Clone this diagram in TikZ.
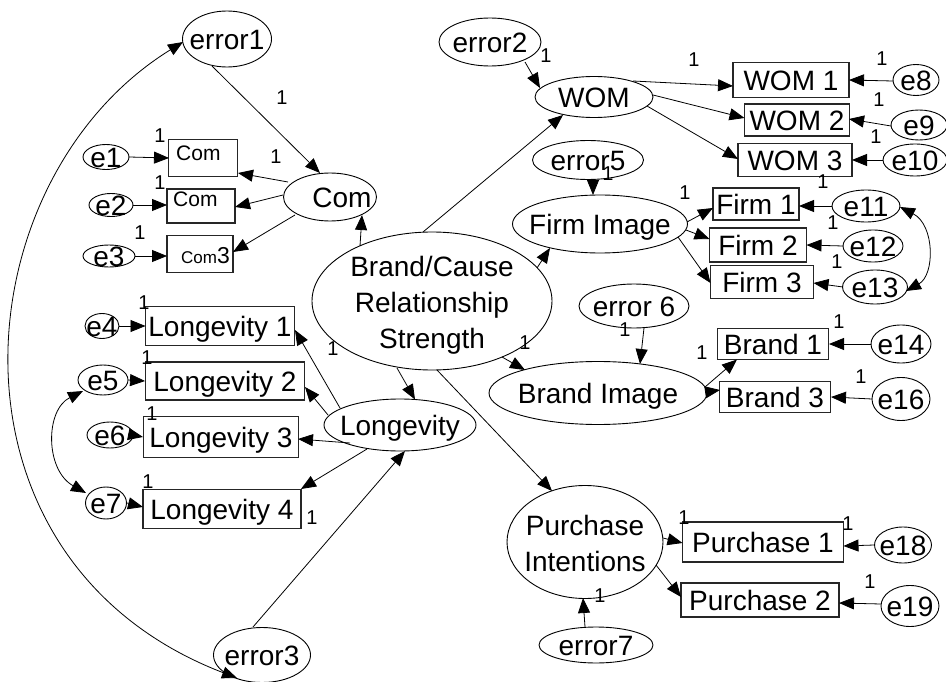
\documentclass[tikz,border=0pt]{standalone}
\usepackage{fontspec}
\setmainfont{Liberation Sans}
\usetikzlibrary{shapes.geometric,arrows.meta}
\newcommand\boxtxt[1]{\raisebox{-0.36em}[0pt][0pt]{\makebox[0pt]{#1}}}
\tikzset{
  base/.style={inner sep=0pt, font=\fontsize{28}{36}\selectfont},
  lat/.style={base, ellipse, draw, line width=0.9pt},
  obs/.style={base, rectangle, draw=black!85, line width=1.2pt},
  num/.style={inner sep=0pt, font=\fontsize{20}{23}\selectfont},
  smalltxt/.style={inner sep=0pt, anchor=base west, font=\fontsize{21}{25}\selectfont},
  arr/.style={line width=0.8pt, -{Triangle[length=15pt,width=12pt]}},
  darr/.style={line width=0.8pt, {Triangle[length=15pt,width=12pt]}-{Triangle[length=15pt,width=12pt]}}
}
\begin{document}
\begin{tikzpicture}[x=1pt,y=-1pt]
\useasboundingbox[fill=white] (0,0) rectangle (946,682);
% ---------- left: Com block
\node[lat, minimum width=89pt, minimum height=56pt] (error1) at (227,39) {\boxtxt{error1}};
\node[lat, minimum width=93pt, minimum height=48pt] (com) at (330,197) {\boxtxt{\hspace*{24pt}Com}};
\node[obs, minimum width=69pt, minimum height=37pt] (com1) at (203,158) {};
\node[obs, minimum width=68pt, minimum height=34pt] (com2) at (201,206) {};
\node[obs, minimum width=66pt, minimum height=37pt] (com3) at (200,254) {};
\node[smalltxt] (com1t) at (176,161) {Com};
\node[smalltxt] (com2t) at (173,207) {Com};
\node[smalltxt] (com3t) at (181,263) {{\fontsize{17}{20}\selectfont Com}{\fontsize{23}{26}\selectfont 3}};
\node[lat, minimum width=46pt, minimum height=25pt] (e1) at (106,157) {\boxtxt{e1}};
\node[lat, minimum width=44pt, minimum height=23pt] (e2) at (111,205) {\boxtxt{e2}};
\node[lat, minimum width=52pt, minimum height=22pt] (e3) at (109,256) {\boxtxt{e3}};
% ---------- centre
\node[lat, minimum width=240pt, minimum height=138pt] (bc) at (432,301)
  {\boxtxt{\begin{tabular}{@{}c@{}}Brand/Cause\\Relationship\\Strength\end{tabular}}};
% ---------- left: Longevity block
\node[obs, minimum width=149pt, minimum height=39pt] (l1) at (220,326) {\boxtxt{Longevity 1}};
\node[obs, minimum width=159pt, minimum height=38pt] (l2) at (225,381) {\boxtxt{Longevity 2}};
\node[obs, minimum width=155pt, minimum height=41pt] (l3) at (221,437) {\boxtxt{Longevity 3}};
\node[obs, minimum width=158pt, minimum height=39pt] (l4) at (222,509) {\boxtxt{Longevity 4}};
\node[lat, minimum width=34pt, minimum height=25pt] (e4) at (102,326) {\boxtxt{e4}};
\node[lat, minimum width=50pt, minimum height=30pt] (e5) at (103,380) {\boxtxt{e5}};
\node[lat, minimum width=46pt, minimum height=26pt] (e6) at (110,435) {\boxtxt{e6}};
\node[lat, minimum width=41pt, minimum height=32pt] (e7) at (106,503) {\boxtxt{e7}};
\node[lat, minimum width=152pt, minimum height=52pt] (lon) at (400,425) {\boxtxt{Longevity}};
\node[lat, minimum width=97pt, minimum height=55pt] (error3) at (262,655) {\boxtxt{error3}};
% ---------- right: WOM block
\node[lat, minimum width=102pt, minimum height=48pt] (error2) at (490,42) {\boxtxt{error2}};
\node[lat, minimum width=118pt, minimum height=41pt] (wom) at (594,97) {\boxtxt{WOM}};
\node[obs, minimum width=116pt, minimum height=35pt] (w1) at (791,80) {\boxtxt{WOM 1}};
\node[obs, minimum width=105pt, minimum height=32pt] (w2) at (797,120) {\boxtxt{WOM 2}};
\node[obs, minimum width=114pt, minimum height=33pt] (w3) at (795,160) {\boxtxt{WOM 3}};
\node[lat, minimum width=46pt, minimum height=31pt] (e8) at (916,80) {\boxtxt{e8}};
\node[lat, minimum width=56pt, minimum height=30pt] (e9) at (919,125) {\boxtxt{e9}};
\node[lat, minimum width=64pt, minimum height=32pt] (e10) at (915,160) {\boxtxt{e10}};
% ---------- right: Firm block
\node[lat, minimum width=111pt, minimum height=39pt] (error5) at (588,160) {\boxtxt{error5}};
\node[lat, minimum width=175pt, minimum height=58pt] (fi) at (600,224) {\boxtxt{Firm Image}};
\node[obs, minimum width=86pt, minimum height=32pt] (f1) at (756,204) {\boxtxt{Firm 1}};
\node[obs, minimum width=97pt, minimum height=34pt] (f2) at (758,245) {\boxtxt{Firm 2}};
\node[obs, minimum width=103pt, minimum height=33pt] (f3) at (762,282) {\boxtxt{Firm 3}};
\node[lat, minimum width=68pt, minimum height=32pt] (e11) at (866,206) {\boxtxt{e11}};
\node[lat, minimum width=60pt, minimum height=32pt] (e12) at (873,246) {\boxtxt{e12}};
\node[lat, minimum width=65pt, minimum height=34pt] (e13) at (875,287) {\boxtxt{e13}};
% ---------- right: Brand block
\node[lat, minimum width=110pt, minimum height=44pt] (error6) at (634,306) {\boxtxt{error 6}};
\node[lat, minimum width=218pt, minimum height=63pt] (bi) at (598,393) {\boxtxt{Brand Image}};
\node[obs, minimum width=111pt, minimum height=31pt] (b1) at (773,344) {\boxtxt{Brand 1}};
\node[obs, minimum width=111pt, minimum height=31pt] (b3) at (775,397) {\boxtxt{Brand 3}};
\node[lat, minimum width=60pt, minimum height=38pt] (e14) at (901,344) {\boxtxt{e14}};
\node[lat, minimum width=58pt, minimum height=43pt] (e16) at (901,399) {\boxtxt{e16}};
% ---------- right: Purchase block
\node[lat, minimum width=156pt, minimum height=113pt] (pi) at (585,542)
  {\boxtxt{\begin{tabular}{@{}c@{}}Purchase\\Intentions\end{tabular}}};
\node[obs, minimum width=161pt, minimum height=40pt] (p1) at (763,542) {\boxtxt{Purchase 1}};
\node[obs, minimum width=158pt, minimum height=34pt] (p2) at (760,600) {\boxtxt{Purchase 2}};
\node[lat, minimum width=57pt, minimum height=36pt] (e18) at (903,545) {\boxtxt{e18}};
\node[lat, minimum width=58pt, minimum height=41pt] (e19) at (910,606) {\boxtxt{e19}};
\node[lat, minimum width=114pt, minimum height=36pt] (error7) at (596,645) {\boxtxt{error7}};
% ---------- connectors: left
\draw[arr] ([shift={(-15,27)}]error1.center) -- ([shift={(-10,-24)}]com.center);
\draw[arr] ([shift={(-42,-15)}]com.center) -- ([shift={(35,15)}]com1.center);
\draw[arr] ([shift={(-47,-2)}]com.center) -- ([shift={(34,1)}]com2.center);
\draw[arr] ([shift={(-35,18)}]com.center) -- ([shift={(33,-2)}]com3.center);
\draw[arr] ([shift={(23,0)}]e1.center) -- ([shift={(-34,0)}]com1.center);
\draw[arr] ([shift={(22,0)}]e2.center) -- ([shift={(-34,-1)}]com2.center);
\draw[arr] ([shift={(26,0)}]e3.center) -- ([shift={(-33,2)}]com3.center);
\draw[arr] ([shift={(-72,-55)}]bc.center) -- ([shift={(32,18)}]com.center);
\draw[darr] ([shift={(-44,3)}]error1.center) .. controls (-40,180) and (-70,560) .. ([shift={(-25,23)}]error3.center);
\draw[arr] ([shift={(17,0)}]e4.center) -- ([shift={(-74.5,0)}]l1.center);
\draw[arr] ([shift={(25,0)}]e5.center) -- ([shift={(-80,0)}]l2.center);
\draw[arr] ([shift={(23,0)}]e6.center) -- ([shift={(-78,0)}]l3.center);
\draw[arr] ([shift={(21,0)}]e7.center) -- ([shift={(-79,-2)}]l4.center);
\draw[darr] ([shift={(-20,11)}]e5.center) .. controls (45,410) and (45,470) .. ([shift={(-20,-10)}]e7.center);
\draw[arr] ([shift={(-60,-17)}]lon.center) -- ([shift={(75,4)}]l1.center);
\draw[arr] ([shift={(-72,-10)}]lon.center) -- ([shift={(80,6)}]l2.center);
\draw[arr] ([shift={(-50,18)}]lon.center) -- ([shift={(77,2)}]l3.center);
\draw[arr] ([shift={(-33,24)}]lon.center) -- ([shift={(79,-20)}]l4.center);
\draw[arr] ([shift={(-35,67)}]bc.center) -- ([shift={(15,-25.5)}]lon.center);
\draw[arr] ([shift={(-9,-28)}]error3.center) -- ([shift={(5,26)}]lon.center);
% ---------- connectors: right
\draw[arr] ([shift={(-9,-69)}]bc.center) -- ([shift={(-31,18)}]wom.center);
\draw[arr] ([shift={(35,20)}]error2.center) -- ([shift={(-54,-9)}]wom.center);
\draw[arr] ([shift={(39,-16)}]wom.center) -- ([shift={(-58,6)}]w1.center);
\draw[arr] ([shift={(59,-2)}]wom.center) -- ([shift={(-52.5,-2)}]w2.center);
\draw[arr] ([shift={(53,9)}]wom.center) -- ([shift={(-57,-1)}]w3.center);
\draw[arr] ([shift={(-23,1)}]e8.center) -- ([shift={(58,0)}]w1.center);
\draw[arr] ([shift={(-28,1)}]e9.center) -- ([shift={(52,-1)}]w2.center);
\draw[arr] ([shift={(-32,0)}]e10.center) -- ([shift={(57,0)}]w3.center);
\draw[arr] ([shift={(5,19.5)}]error5.center) -- ([shift={(-7,-29)}]fi.center);
\draw[arr] ([shift={(105,-33)}]bc.center) -- ([shift={(-50,24)}]fi.center);
\draw[arr] ([shift={(87,-2)}]fi.center) -- ([shift={(-43,4)}]f1.center);
\draw[arr] ([shift={(86,6)}]fi.center) -- ([shift={(-48.5,-6)}]f2.center);
\draw[arr] ([shift={(78,13)}]fi.center) -- ([shift={(-51.5,1)}]f3.center);
\draw[arr] ([shift={(-34,0)}]e11.center) -- ([shift={(43,2)}]f1.center);
\draw[arr] ([shift={(-30,0)}]e12.center) -- ([shift={(48.5,0)}]f2.center);
\draw[arr] ([shift={(-32,0)}]e13.center) -- ([shift={(51.5,1)}]f3.center);
\draw[darr] ([shift={(34,1)}]e11.center) .. controls (935,225) and (935,275) .. ([shift={(31,4)}]e13.center);
\draw[arr] ([shift={(10,22)}]error6.center) -- ([shift={(42,-29)}]bi.center);
\draw[arr] ([shift={(70,56)}]bc.center) -- ([shift={(-73,-23)}]bi.center);
\draw[arr] ([shift={(107,-6)}]bi.center) -- ([shift={(-36,15.5)}]b1.center);
\draw[arr] ([shift={(109,-1)}]bi.center) -- ([shift={(-55,-7)}]b3.center);
\draw[arr] ([shift={(-30,0)}]e14.center) -- ([shift={(56,0)}]b1.center);
\draw[arr] ([shift={(-29,0)}]e16.center) -- ([shift={(56,0)}]b3.center);
\draw[arr] ([shift={(5,69)}]bc.center) -- ([shift={(-33,-51)}]pi.center);
\draw[arr] ([shift={(78,-4)}]pi.center) -- ([shift={(-80.5,1)}]p1.center);
\draw[arr] ([shift={(71,23)}]pi.center) -- ([shift={(-79,-3)}]p2.center);
\draw[arr] ([shift={(-28.5,0)}]e18.center) -- ([shift={(80.5,4)}]p1.center);
\draw[arr] ([shift={(-29,-2)}]e19.center) -- ([shift={(79,3)}]p2.center);
\draw[arr] ([shift={(-11,-18)}]error7.center) -- ([shift={(-2,56)}]pi.center);
% ---------- path labels
\node[num] (n1) at (282,98) {1};
\node[num] (n2) at (160,136) {1};
\node[num] (n3) at (276,157) {1};
\node[num] (n4) at (160,183) {1};
\node[num] (n5) at (140,233) {1};
\node[num] (n6) at (144,303) {1};
\node[num] (n7) at (147,358) {1};
\node[num] (n8) at (152,414) {1};
\node[num] (n9) at (148,482) {1};
\node[num] (n10) at (312,518) {1};
\node[num] (n11) at (333,349) {1};
\node[num] (n12) at (525,343) {1};
\node[num] (n13) at (546,56) {1};
\node[num] (n14) at (694,60) {1};
\node[num] (n15) at (882,59) {1};
\node[num] (n16) at (879,100) {1};
\node[num] (n17) at (876,137) {1};
\node[num] (n18) at (608,174) {1};
\node[num] (n19) at (685,193) {1};
\node[num] (n20) at (823,182) {1};
\node[num] (n21) at (833,223) {1};
\node[num] (n22) at (837,262) {1};
\node[num] (n23) at (625,330) {1};
\node[num] (n24) at (702,353) {1};
\node[num] (n25) at (839,322) {1};
\node[num] (n26) at (861,377) {1};
\node[num] (n27) at (684,518) {1};
\node[num] (n28) at (848,524) {1};
\node[num] (n29) at (870,582) {1};
\node[num] (n30) at (600,596) {1};
\end{tikzpicture}
\end{document}
